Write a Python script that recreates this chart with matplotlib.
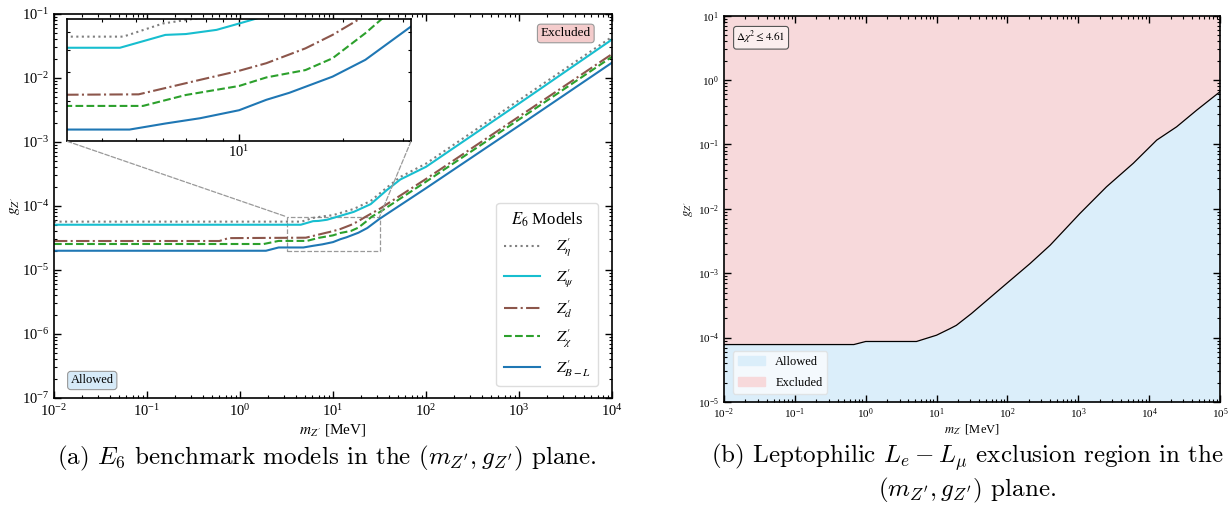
import matplotlib.pyplot as plt
from matplotlib.patches import Rectangle, ConnectionPatch, Patch
from matplotlib.ticker import LogLocator, NullFormatter

plt.rcParams['font.family'] = ['Liberation Serif', 'DejaVu Serif']
plt.rcParams['mathtext.fontset'] = 'stix'

# E6 benchmark limits, m in MeV
m_eta = [0.01, 4.6, 6.0, 7.8, 10, 16.7, 25.4, 38, 53, 100, 1000, 1e4]
g_eta = [5.7e-5, 5.7e-5, 6.5e-5, 6.9e-5, 7.2e-5, 9.0e-5, 1.2e-4, 1.95e-4, 2.85e-4, 4.6e-4, 4.5e-3, 4.4e-2]

m_psi = [0.01, 4.5, 6.1, 7.0, 8.6, 10, 16.7, 25.4, 38, 53, 100, 1000, 1e4]
g_psi = [5.1e-5, 5.1e-5, 5.8e-5, 5.85e-5, 6.1e-5, 6.5e-5, 8.1e-5, 1.07e-4, 1.78e-4, 2.6e-4, 4.1e-4, 4.0e-3, 4.0e-2]

m_d = [0.01, 0.6, 0.75, 5.1, 7.7, 10, 12, 15.6, 18.7, 22.4, 31.6, 100, 1000, 1e4]
g_d = [2.84e-5, 2.84e-5, 3.15e-5, 3.2e-5, 3.7e-5, 4.05e-5, 4.37e-5, 5.07e-5, 5.8e-5, 6.8e-5, 9.0e-5, 2.65e-4, 2.5e-3, 2.37e-2]

m_chi = [0.01, 1.8, 2.6, 5.25, 7.0, 10, 12, 15.6, 18.7, 23.3, 26, 31.6, 100, 1000, 1e4]
g_chi = [2.55e-5, 2.55e-5, 2.85e-5, 2.85e-5, 3.18e-5, 3.48e-5, 3.79e-5, 4.08e-5, 4.59e-5, 5.9e-5, 6.8e-5, 8.0e-5, 2.4e-4, 2.25e-3, 2.15e-2]

m_bl = [0.01, 1.9, 2.6, 4.8, 6.1, 7.7, 10, 12, 14, 18.7, 23.3, 31.6, 100, 1000, 1e4]
g_bl = [2.0e-5, 2.0e-5, 2.25e-5, 2.25e-5, 2.39e-5, 2.52e-5, 2.73e-5, 3.03e-5, 3.25e-5, 3.82e-5, 4.52e-5, 6.3e-5, 1.9e-4, 1.8e-3, 1.74e-2]

labels = [r"$Z^{\prime}_{\eta}$", r"$Z^{\prime}_{\psi}$", r"$Z^{\prime}_{d}$", r"$Z^{\prime}_{\chi}$", r"$Z^{\prime}_{B-L}$"]

# Le - Lmu exclusion boundary
m_b = [0.01, 0.68, 1.0, 5.2, 10, 15.5, 19, 31, 63, 103, 208, 400, 1057, 2500, 5970, 12800, 24400, 47000, 1e5]
g_b = [7.8e-5, 7.8e-5, 8.7e-5, 8.7e-5, 1.09e-4, 1.38e-4, 1.55e-4, 2.36e-4, 4.6e-4, 7.3e-4, 1.41e-3,
       2.72e-3, 8.5e-3, 2.2e-2, 5.1e-2, 0.117, 0.188, 0.342, 0.66]

series = [
    (m_eta, g_eta, dict(color='#7f7f7f', ls=':', lw=1.5)),
    (m_psi, g_psi, dict(color='#17becf', ls='-', lw=1.5)),
    (m_d, g_d, dict(color='#8c564b', ls='-.', lw=1.5)),
    (m_chi, g_chi, dict(color='#2ca02c', ls='--', lw=1.5)),
    (m_bl, g_bl, dict(color='#1f77b4', ls='-', lw=1.5)),
]

fig = plt.figure(figsize=(12.3, 5.08), dpi=100)

def style(ax, size):
    ax.set_xscale('log')
    ax.set_yscale('log')
    ax.tick_params(which='both', direction='in', top=True, right=True, labelsize=size)
    ax.tick_params(which='major', length=5, width=1)
    ax.tick_params(which='minor', length=2.5, width=0.8)
    ax.xaxis.set_major_locator(LogLocator(base=10, numticks=20))
    ax.yaxis.set_major_locator(LogLocator(base=10, numticks=20))
    ax.xaxis.set_minor_locator(LogLocator(base=10, subs=range(2, 10), numticks=100))
    ax.yaxis.set_minor_locator(LogLocator(base=10, subs=range(2, 10), numticks=100))
    ax.xaxis.set_minor_formatter(NullFormatter())
    ax.yaxis.set_minor_formatter(NullFormatter())
    for s in ax.spines.values():
        s.set_linewidth(1.2)

mz = r"$m_{Z^{\prime}}$ [MeV]"
gz = r"$g_{Z^{\prime}}$"

# ---- left panel
ax = fig.add_axes([0.0439, 0.2165, 0.4537, 0.7559])
style(ax, 10.5)
for m, g, kw in series:
    ax.plot(m, g, **kw)
ax.set_xlim(1e-2, 1e4)
ax.set_ylim(1e-7, 1e-1)
ax.set_xlabel(mz, fontsize=11, labelpad=2)
ax.set_ylabel(gz, fontsize=11, labelpad=0)

leg = ax.legend(labels, loc='lower right', title=r"$E_6$ Models", fontsize=11.5, title_fontsize=12,
                handlelength=2.3, labelspacing=0.5, handletextpad=1.0, borderpad=0.45,
                fancybox=True, framealpha=1, edgecolor='#dddddd', bbox_to_anchor=(0.99, 0.01))

ax.text(0.962, 0.965, "Excluded", transform=ax.transAxes, ha='right', va='top', fontsize=9.5,
        bbox=dict(boxstyle='round,pad=0.25', fc='#f4cccc', ec='#999999', lw=0.8))
ax.text(0.03, 0.03, "Allowed", transform=ax.transAxes, ha='left', va='bottom', fontsize=9,
        bbox=dict(boxstyle='round,pad=0.25', fc='#d6eaf8', ec='#999999', lw=0.8))

x0, x1, y0, y1 = 10 ** 0.5, 10 ** 1.5, 2e-5, 6.8e-5
ax.add_patch(Rectangle((x0, y0), x1 - x0, y1 - y0, fill=False, ec='#999999', ls='--', lw=0.9))

axins = fig.add_axes([0.0547, 0.7218, 0.2794, 0.2408])
style(axins, 10.5)
for m, g, kw in series:
    axins.plot(m, g, **kw)
axins.set_xlim(x0, x1)
axins.set_ylim(y0, y1)
axins.yaxis.set_major_formatter(NullFormatter())
axins.tick_params(labelleft=False, pad=2)

for xa, xb in [(0, x0), (1, x1)]:
    cp = ConnectionPatch(xyA=(xa, 0), coordsA=axins.transAxes, xyB=(xb, y1), coordsB=ax.transData,
                         color='#999999', ls='--', lw=0.9)
    fig.add_artist(cp)

# ---- right panel
bx = fig.add_axes([0.5886, 0.2087, 0.4033, 0.7604])
style(bx, 8)
c_allow = '#dbeefa'
c_excl = '#f7d9db'
bx.fill_between(m_b, 1e-5, g_b, color=c_allow, lw=0)
bx.fill_between(m_b, g_b, 10, color=c_excl, lw=0)
bx.plot(m_b, g_b, color='black', lw=0.9)
bx.set_xlim(1e-2, 1e5)
bx.set_ylim(1e-5, 1e1)
bx.set_xlabel(mz, fontsize=9, labelpad=1)
bx.set_ylabel(gz, fontsize=9, labelpad=2)
bx.text(0.025, 0.965, r"$\Delta\chi^2 \leq 4.61$", transform=bx.transAxes, ha='left', va='top', fontsize=8,
        bbox=dict(boxstyle='round,pad=0.25', fc='#fbeeee', ec='#555555', lw=0.8))
bx.legend(handles=[Patch(color=c_allow, label='Allowed'), Patch(color=c_excl, label='Excluded')],
          loc='lower left', fontsize=9, fancybox=True, framealpha=0.7, edgecolor='#dddddd',
          bbox_to_anchor=(0.005, 0.005), handlelength=2.2, labelspacing=0.7)

# ---- captions
cap = dict(ha='center', va='center', fontsize=18, family='cmr10', math_fontfamily='cm')
fig.text(0.266, 0.098, r"(a) $E_6$ benchmark models in the $(m_{Z'}, g_{Z'})$ plane.", **cap)
fig.text(0.786, 0.068, "(b) Leptophilic $L_e - L_\\mu$ exclusion region in the\n$(m_{Z'}, g_{Z'})$ plane.",
         multialignment='center', linespacing=1.15, **cap)

fig.savefig('out.png', dpi=100)
